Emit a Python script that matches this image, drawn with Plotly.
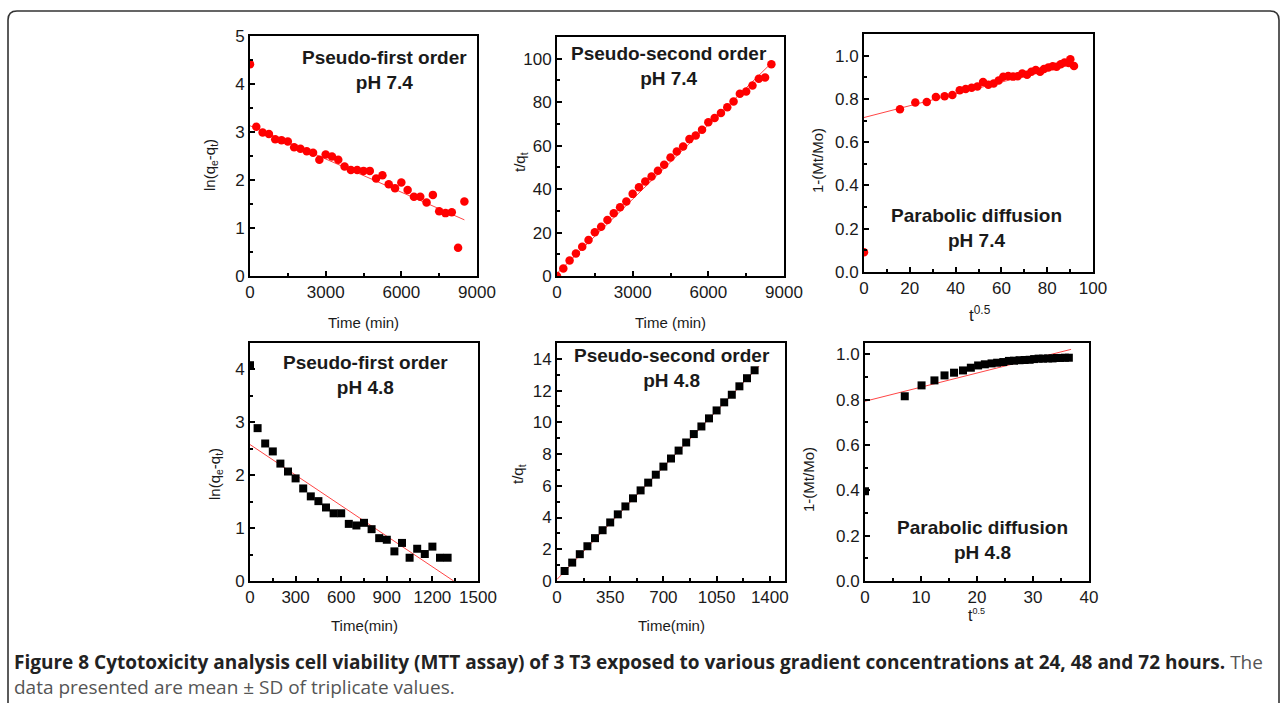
import plotly.graph_objects as go

# ---------------- data ----------------
# Panel 1: pseudo-first order, pH 7.4
p1_t = [0, 250, 500, 750, 1000, 1250, 1500, 1750, 2000, 2250, 2500, 2750, 3000, 3250, 3500,
        3750, 4000, 4250, 4500, 4750, 5000, 5250, 5500, 5750, 6000, 6250, 6500, 6750, 7000,
        7250, 7500, 7750, 8000, 8250, 8500]
p1_y = [4.41, 3.11, 2.99, 2.96, 2.85, 2.83, 2.80, 2.68, 2.65, 2.60, 2.57, 2.42, 2.53, 2.49, 2.42,
        2.28, 2.21, 2.21, 2.19, 2.19, 2.03, 2.10, 1.91, 1.83, 1.95, 1.79, 1.65, 1.65, 1.53,
        1.69, 1.35, 1.31, 1.33, 0.59, 1.55]
p1_fit_x = [0, 8500]
p1_fit_y = [3.13, 1.17]

# Panel 2: pseudo-second order, pH 7.4
p2_t = p1_t
p2_y = [0.0, 3.5, 7.1, 10.4, 13.5, 16.6, 20.1, 22.7, 25.8, 28.9, 31.6, 34.3, 37.8, 40.9, 43.5,
        45.8, 48.4, 51.2, 54.5, 57.3, 59.6, 63.0, 64.7, 67.3, 70.8, 72.7, 75.0, 77.7, 80.3,
        83.9, 84.9, 87.7, 90.8, 91.4, 97.5]
p2_fit_x = [0, 8500]
p2_fit_y = [1.2, 98.0]

# Panel 3: parabolic diffusion, pH 7.4
p3_x = [0, 15.7, 22.4, 27.4, 31.4, 35.2, 38.6, 41.8, 44.4, 47.0, 49.5, 52.0, 54.3, 56.6, 58.8,
        60.8, 63.0, 65.1, 67.1, 69.1, 71.2, 73.1, 75.0, 76.9, 78.6, 80.5, 82.4, 84.1, 85.9,
        87.6, 89.4, 90.1, 91.7]
p3_y = [0.091, 0.752, 0.783, 0.786, 0.809, 0.812, 0.818, 0.840, 0.846, 0.852, 0.857, 0.878,
        0.865, 0.871, 0.885, 0.902, 0.906, 0.903, 0.905, 0.917, 0.912, 0.926, 0.934, 0.925,
        0.938, 0.945, 0.951, 0.949, 0.960, 0.968, 0.966, 0.983, 0.952]
p3_fit_x = [0, 92]
p3_fit_y = [0.714, 0.965]

# Panel 4: pseudo-first order, pH 4.8
p4_t = [0, 50, 100, 150, 200, 250, 300, 350, 400, 450, 500, 550, 600, 650, 700, 750, 800, 850,
        900, 950, 1000, 1050, 1100, 1150, 1200, 1250, 1300]
p4_y = [4.08, 2.89, 2.60, 2.45, 2.22, 2.07, 1.94, 1.75, 1.60, 1.51, 1.39, 1.28, 1.28, 1.08, 1.05,
        1.10, 0.98, 0.81, 0.78, 0.56, 0.72, 0.44, 0.61, 0.51, 0.65, 0.44, 0.44]
p4_fit_x = [0, 1340]
p4_fit_y = [2.58, 0.0]

# Panel 5: pseudo-second order, pH 4.8
p5_t = [50, 100, 150, 200, 250, 300, 350, 400, 450, 500, 550, 600, 650, 700, 750, 800, 850, 900,
        950, 1000, 1050, 1100, 1150, 1200, 1250, 1300]
p5_y = [0.63, 1.16, 1.69, 2.19, 2.70, 3.20, 3.69, 4.20, 4.70, 5.21, 5.71, 6.20, 6.70, 7.21, 7.72,
        8.22, 8.73, 9.26, 9.74, 10.25, 10.75, 11.26, 11.74, 12.27, 12.78, 13.28]
p5_fit_x = [0, 1330]
p5_fit_y = [0.1, 13.55]

# Panel 6: parabolic diffusion, pH 4.8
p6_x = [0, 7.1, 10.1, 12.4, 14.2, 15.9, 17.5, 18.9, 20.2, 21.4, 22.6, 23.6, 24.7, 25.7, 26.6,
        27.6, 28.5, 29.4, 30.2, 31.0, 31.8, 32.7, 33.5, 34.2, 34.9, 35.7, 36.4]
p6_y = [0.396, 0.815, 0.863, 0.885, 0.907, 0.919, 0.929, 0.941, 0.951, 0.956, 0.960, 0.963,
        0.966, 0.971, 0.972, 0.974, 0.975, 0.976, 0.979, 0.981, 0.981, 0.982, 0.982, 0.984,
        0.984, 0.985, 0.985]
p6_fit_x = [0, 36.8]
p6_fit_y = [0.793, 1.022]

labels = [
    "Pseudo-first order<br>pH 7.4",
    "Pseudo-second order<br>pH 7.4",
    "Parabolic diffusion<br>pH 7.4",
    "Pseudo-first order<br>pH 4.8",
    "Pseudo-second order<br>pH 4.8",
    "Parabolic diffusion<br>pH 4.8",
]
x_titles = ["Time (min)", "Time (min)", "t<sup>0.5</sup>", "Time(min)", "Time(min)",
            "t<sup><span style='font-size:9px'>0.5</span></sup>"]
y_titles = ["ln(q<sub>e</sub>-q<sub>t</sub>)", "t/q<sub>t</sub>", "1-(Mt/Mo)",
            "ln(q<sub>e</sub>-q<sub>t</sub>)", "t/q<sub>t</sub>", "1-(Mt/Mo)"]
caption_bold = ("Figure 8 Cytotoxicity analysis cell viability (MTT assay) of 3 T3 exposed to "
                "various gradient concentrations at 24, 48 and 72 hours.")
caption_rest1 = " The"
caption_rest2 = "data presented are mean ± SD of triplicate values."

# ---------------- layout geometry ----------------
W, H = 1282, 703
FONT = "Liberation Sans, Arial, Helvetica, sans-serif"
# pixel boxes (left, right, top, bottom)
boxes = [
    (250, 477, 36, 276),
    (557, 784, 37, 276),
    (864, 1093, 34, 272),
    (250, 478, 343, 581),
    (557, 785, 343, 581),
    (865, 1089, 343, 581),
]
x_ranges = [[0, 9000], [0, 9000], [0, 100], [0, 1500], [0, 1500], [0, 40]]
y_ranges = [[0, 5], [0, 110], [0, 1.1], [0, 4.5], [0, 15], [0, 1.05]]
x_dticks = [3000, 3000, 20, 300, 350, 10]
y_dticks = [1, 20, 0.2, 1, 2, 0.2]
y_formats = ["d", "d", ".1f", "d", "d", ".1f"]
label_pos = [(384, 70), (669, 66), (977, 228), (365, 375), (672, 368), (982, 540)]
xtitle_pos = [(363, 322), (670, 322), (980, 314), (364, 625), (671, 625), (977, 615)]
xtitle_size = [15, 15, 17, 15, 15, 16]
ytitle_pos = [(210, 165), (521, 162), (817, 160), (215, 474), (518, 474), (809, 480)]

series = [
    (p1_t, p1_y, p1_fit_x, p1_fit_y, "circle", "#ff0000"),
    (p2_t, p2_y, p2_fit_x, p2_fit_y, "circle", "#ff0000"),
    (p3_x, p3_y, p3_fit_x, p3_fit_y, "circle", "#ff0000"),
    (p4_t, p4_y, p4_fit_x, p4_fit_y, "square", "#000000"),
    (p5_t, p5_y, p5_fit_x, p5_fit_y, "square", "#000000"),
    (p6_x, p6_y, p6_fit_x, p6_fit_y, "square", "#000000"),
]

fig = go.Figure()
layout = dict(
    width=W, height=H,
    margin=dict(l=0, r=0, t=0, b=0, autoexpand=False),
    paper_bgcolor="white", plot_bgcolor="white",
    showlegend=False,
    font=dict(family=FONT, color="#1a1a1a"),
)
annotations = []
for i, (xs, ys, fx, fy, sym, col) in enumerate(series):
    k = "" if i == 0 else str(i + 1)
    xa, ya = "x" + k, "y" + k
    l, r, t, b = boxes[i]
    fig.add_trace(go.Scatter(x=fx, y=fy, mode="lines", line=dict(color="#ff3030", width=0.9),
                             xaxis=xa, yaxis=ya, cliponaxis=True, hoverinfo="skip"))
    fig.add_trace(go.Scatter(x=xs, y=ys, mode="markers",
                             marker=dict(symbol=sym, size=8.5 if sym == "circle" else 8,
                                         color=col, line=dict(width=0)),
                             xaxis=xa, yaxis=ya, cliponaxis=True))
    common = dict(showline=True, linecolor="black", linewidth=2, mirror=True,
                  ticks="inside", ticklen=5, tickwidth=1.5, tickcolor="black",
                  showgrid=False, zeroline=False, automargin=False,
                  tickfont=dict(size=17, family=FONT, color="#1a1a1a"))
    layout["xaxis" + k] = dict(
        common, domain=[l / W, r / W], anchor=ya, range=x_ranges[i],
        dtick=x_dticks[i], tick0=0,
        minor=dict(dtick=x_dticks[i] / 2, ticks="inside", ticklen=3, tickwidth=1.5,
                   tickcolor="black"),
    )
    layout["yaxis" + k] = dict(
        common, domain=[1 - b / H, 1 - t / H], anchor=xa, range=y_ranges[i],
        dtick=y_dticks[i], tick0=0, tickformat=y_formats[i],
        minor=dict(dtick=y_dticks[i] / 2, ticks="inside", ticklen=3, tickwidth=1.5,
                   tickcolor="black"),
    )
    cx, cy = label_pos[i]
    annotations.append(dict(text="<b>" + labels[i] + "</b>", x=cx / W, y=1 - cy / H,
                            xref="paper", yref="paper", showarrow=False,
                            font=dict(size=19, color="#1a1a1a", family=FONT),
                            align="center", xanchor="center", yanchor="middle"))
    tx, ty = xtitle_pos[i]
    annotations.append(dict(text=x_titles[i], x=tx / W, y=1 - ty / H,
                            xref="paper", yref="paper", showarrow=False,
                            font=dict(size=xtitle_size[i], color="#1a1a1a", family=FONT),
                            xanchor="center", yanchor="middle"))
    vx, vy = ytitle_pos[i]
    annotations.append(dict(text=y_titles[i], x=vx / W, y=1 - vy / H, textangle=-90,
                            xref="paper", yref="paper", showarrow=False,
                            font=dict(size=15, color="#1a1a1a", family=FONT),
                            xanchor="center", yanchor="middle"))

cap_font = "Open Sans, Roboto, sans-serif"
annotations.append(dict(
    text=("<b>" + caption_bold + "</b>" + "<span style='color:#555'>" + caption_rest1
          + "</span><br><span style='color:#555'>" + caption_rest2 + "</span>"),
    x=12 / W, y=1 - 674 / H, xref="paper", yref="paper", showarrow=False, align="left",
    xanchor="left", yanchor="middle", font=dict(size=19, family=cap_font, color="#222")))
layout["annotations"] = annotations

# rounded frame around the figure
layout["shapes"] = [dict(
    type="path", xref="paper", yref="paper",
    path=("M %f %f L %f %f Q %f %f %f %f L %f %f Q %f %f %f %f L %f %f"
          % (8 / W, 0.0, 8 / W, 1 - 20 / H, 8 / W, 1 - 11 / H, 17 / W, 1 - 11 / H,
             1270 / W, 1 - 11 / H, 1279 / W, 1 - 11 / H, 1279 / W, 1 - 20 / H, 1279 / W, 0.0)),
    line=dict(color="#333", width=1.6))]

fig.update_layout(**layout)
fig.write_html("out.html")
